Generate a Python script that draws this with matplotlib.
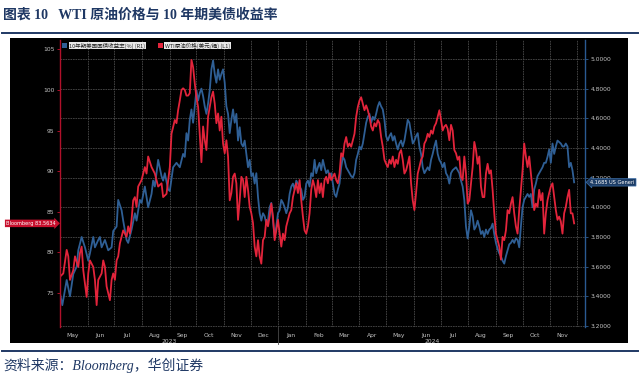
import numpy as np
import pandas as pd
import matplotlib
matplotlib.use('Agg')
import matplotlib.pyplot as plt
import matplotlib.dates as mdates
import matplotlib.transforms as mtransforms
from matplotlib.patches import Rectangle
from matplotlib.lines import Line2D

START = pd.Timestamp('2023-05-01')
END = pd.Timestamp('2024-12-10')

# ---- early segment (irregular sampling), days since START ----
yield_days_early = [0, 2.6, 7.5, 11.2, 14.9, 18.7, 20.5, 24.3, 28.0, 31.7,
                    33.6, 37.3, 39.2, 42.9, 44.8, 46.7, 50.4, 54.1, 57.9, 59.7,
                    63.5, 65.3, 69.1, 70.9, 74.7, 76.5, 80.3, 84.0, 85.9, 89.6,
                    91.5, 95.2, 98.9, 102.7, 104.5, 106.4, 110.1, 113.9, 115.7, 117.6,
                    121.3, 123.2, 126.9, 130.7, 134.4, 138.1]
yield_early = [3.42, 3.34, 3.51, 3.40, 3.55, 3.60, 3.71, 3.80, 3.73, 3.64,
               3.69, 3.80, 3.73, 3.78, 3.80, 3.73, 3.78, 3.71, 3.73, 3.84,
               3.87, 4.05, 3.98, 3.91, 3.78, 3.76, 3.85, 3.96, 3.91, 4.05,
               4.03, 4.14, 4.00, 4.09, 4.18, 4.14, 4.32, 4.21, 4.18, 4.23,
               4.12, 4.11, 4.27, 4.30, 4.27, 4.36]
wti_days_early = [0, 3.7, 7.5, 9.3, 11.2, 14.9, 16.8, 20.5, 22.4, 24.3,
                  26.1, 29.9, 31.7, 33.6, 37.3, 39.2, 41.1, 42.9, 46.7, 48.5,
                  50.4, 52.3, 56.0, 57.9, 59.7, 61.6, 63.5, 65.3, 67.2, 70.9,
                  74.7, 76.5, 78.4, 80.3, 82.1, 84.0, 85.9, 87.7, 91.5, 93.3,
                  95.2, 97.1, 98.9, 102.7, 106.4, 110.1, 113.9, 115.7, 119.5, 123.2,
                  125.1, 126.9, 128.8, 130.7, 132.5, 134.4, 136.3, 138.1]
wti_early = [77.0, 77.4, 80.3, 79.5, 76.6, 77.8, 79.5, 78.2, 79.9, 80.7,
             77.8, 74.5, 77.4, 79.0, 78.2, 76.6, 73.5, 76.6, 77.4, 79.0,
             78.2, 75.8, 74.1, 76.6, 77.4, 76.6, 79.0, 79.5, 81.1, 82.7,
             81.9, 83.2, 82.3, 84.0, 86.4, 86.8, 85.6, 88.1, 88.9, 89.7,
             90.5, 89.7, 91.8, 90.5, 89.7, 88.1, 88.5, 86.8, 87.2, 90.5,
             94.6, 95.4, 96.3, 95.9, 97.5, 98.7, 100.0, 100.2]

# ---- later segment: sampled every LATE_STEP days from day LATE_START ----
LATE_START = 140.0
LATE_STEP = 1.8667
yield_late = [
    4.34, 4.50, 4.45, 4.59, 4.66, 4.57, 4.68, 4.79, 4.72, 4.77,
    4.80, 4.75, 4.68, 4.63, 4.70, 4.79, 4.93, 4.99, 4.90, 4.84,
    4.93, 4.86, 4.90, 4.93, 4.84, 4.68, 4.63, 4.50, 4.59, 4.66,
    4.57, 4.63, 4.45, 4.54, 4.43, 4.41, 4.45, 4.36, 4.27, 4.32,
    4.21, 4.23, 4.16, 4.23, 4.07, 3.96, 3.91, 3.96, 3.94, 3.89,
    3.91, 4.00, 4.03, 3.91, 3.80, 3.87, 3.96, 3.98, 4.05, 4.03,
    4.00, 3.96, 4.00, 4.09, 4.14, 4.16, 4.12, 4.18, 4.16, 4.14,
    4.12, 4.05, 4.07, 4.16, 4.18, 4.14, 4.23, 4.21,
    4.32, 4.23, 4.27, 4.30, 4.25, 4.32, 4.27, 4.23, 4.25, 4.21,
    4.23, 4.16, 4.09, 4.07, 4.12, 4.16, 4.27, 4.34, 4.32, 4.27,
    4.25, 4.23, 4.21, 4.20, 4.23, 4.32, 4.36, 4.41, 4.39, 4.43,
    4.50, 4.57, 4.61, 4.63, 4.57, 4.61, 4.59, 4.63, 4.68, 4.71,
    4.68, 4.66, 4.59, 4.48, 4.45, 4.48, 4.50, 4.45, 4.48, 4.43,
    4.39, 4.43, 4.45, 4.41, 4.45, 4.52, 4.59, 4.57, 4.50, 4.43,
    4.45, 4.48, 4.50, 4.41, 4.36, 4.27, 4.23, 4.25, 4.27, 4.25,
    4.32, 4.36, 4.41, 4.45, 4.36, 4.32, 4.30, 4.27,
    4.30, 4.23, 4.21, 4.16, 4.23, 4.25, 4.26, 4.27, 4.25, 4.23,
    4.18, 4.14, 4.05, 3.87, 3.79, 3.87, 3.98, 3.94, 3.85, 3.87,
    3.91, 3.87, 3.82, 3.84, 3.80, 3.85, 3.82, 3.85, 3.86, 3.89,
    3.82, 3.76, 3.72, 3.69, 3.67, 3.64, 3.62, 3.67, 3.71, 3.75,
    3.76, 3.78, 3.76, 3.79, 3.78, 3.73, 3.87, 4.00, 4.05, 4.07,
    4.09, 4.07, 4.09, 4.00, 4.12, 4.16, 4.21, 4.23, 4.25, 4.27,
    4.30, 4.30, 4.34, 4.39, 4.30, 4.43, 4.36, 4.41, 4.45, 4.44,
    4.43, 4.41, 4.41, 4.43, 4.41, 4.27, 4.30, 4.25, 4.1685]
wti_late = [
    100.0, 99.3, 99.3, 99.6, 103.7, 102.8, 100.8, 99.1, 97.9, 94.6,
    91.1, 95.5, 93.8, 92.6, 96.7, 97.9, 99.1, 99.8, 98.3, 95.9,
    97.1, 95.0, 96.7, 93.4, 92.2, 93.8, 91.8, 86.4, 87.3, 89.3,
    89.7, 88.5, 84.0, 86.4, 89.3, 88.9, 86.8, 89.3, 87.7, 85.6,
    84.8, 83.6, 80.7, 79.5, 81.5, 79.5, 78.6, 81.5, 81.9, 84.0,
    83.2, 84.4, 86.0, 84.4, 81.5, 82.7, 84.0, 82.3, 80.7, 82.3,
    81.5, 83.2, 84.0, 84.8, 85.2, 86.8, 87.7, 88.5, 87.3, 88.9,
    86.4, 84.4, 82.7, 82.3, 83.2, 84.8, 87.7, 88.9,
    88.1, 86.8, 88.9, 87.3, 88.5, 86.8, 88.9, 89.3, 88.5, 89.7,
    88.9, 89.3, 89.7, 88.9, 88.5, 89.7, 92.2, 91.8, 93.4, 94.2,
    93.0, 93.4, 93.0, 93.8, 94.6, 96.7, 97.9, 98.7, 99.1, 98.3,
    97.5, 98.1, 97.5, 96.7, 95.5, 95.0, 95.9, 95.5, 96.3, 95.9,
    94.2, 93.0, 91.4, 90.9, 90.5, 91.4, 90.9, 91.8, 90.5, 91.4,
    90.9, 92.2, 92.6, 91.4, 89.7, 90.1, 90.9, 91.8, 88.5, 86.4,
    85.2, 87.3, 89.7, 90.5, 91.4, 91.8, 93.4, 93.8, 94.6, 94.2,
    95.0, 94.6, 95.5, 95.9, 96.7, 97.5, 96.3, 95.0,
    95.5, 95.7, 95.2, 93.8, 95.7, 95.0, 92.6, 92.2, 91.4, 91.8,
    89.3, 88.9, 91.8, 89.7, 86.0, 86.4, 88.5, 90.5, 93.6, 92.6,
    90.9, 91.8, 88.1, 86.8, 86.8, 89.7, 90.9, 89.7, 90.1, 87.7,
    84.8, 82.3, 81.5, 80.7, 79.1, 81.9, 81.5, 82.7, 85.2, 84.8,
    86.0, 86.8, 84.8, 83.2, 82.3, 85.2, 87.7, 90.1, 93.4, 91.8,
    90.5, 91.8, 89.7, 87.7, 85.2, 86.0, 85.6, 87.7, 86.4, 87.3,
    82.3, 84.8, 86.4, 87.3, 88.1, 88.5, 86.8, 85.2, 84.0, 84.4,
    83.8, 82.3, 84.8, 85.6, 86.8, 87.7, 84.8, 84.8, 83.5634]

left_ticks = [75, 80, 85, 90, 95, 100, 105]
right_ticks = [3.2, 3.4, 3.6, 3.8, 4.0, 4.2, 4.4, 4.6, 4.8, 5.0]

title_text = '图表 10   WTI 原油价格与 10 年期美债收益率'
legend_blue = '10年期美国国债收益率(%) (R1)'
legend_red = 'WTI原油价格(美元/桶) (L1)'
source_text = '资料来源：Bloomberg，华创证券'

# ---- build series ----
def to_dates(days):
    return START + pd.to_timedelta(np.asarray(days, dtype=float), unit='D')

late_days = LATE_START + LATE_STEP * np.arange(len(yield_late))
yield_dates = to_dates(list(yield_days_early) + list(late_days))
yield_vals = np.array(yield_early + yield_late)
wti_dates = to_dates(list(wti_days_early) + list(late_days))
wti_vals = np.array(wti_early + wti_late)

BLUE = '#2f5f95'
RED = '#e3243b'
LBL = '#c4c4c4'
NAVY = '#1f3864'
CJK = ['Noto Sans CJK SC', 'DejaVu Sans']

fig = plt.figure(figsize=(6.4, 3.76), dpi=100)
fig.patch.set_facecolor('white')
W, H = 640.0, 376.0

# black chart panel
fig.patches.append(Rectangle((10 / W, 1 - 343 / H), 618 / W, 305 / H,
                             transform=fig.transFigure, facecolor='black',
                             edgecolor='none', zorder=0))

rect = [60 / W, 1 - 327 / H, 525 / W, 287 / H]
ax2 = fig.add_axes(rect)                 # right axis (yield), drawn first
ax = fig.add_axes(rect, sharex=ax2)      # left axis (WTI), drawn on top
ax2.set_zorder(1)
ax.set_zorder(2)
ax2.set_facecolor('black')
ax.patch.set_visible(False)

# right axis config
ax2.yaxis.tick_right()
ax2.yaxis.set_label_position('right')
ax2.set_ylim(3.193, 5.128)
ax2.set_yticks(right_ticks)
ax2.set_yticklabels([f'{v:.4f}' for v in right_ticks])
ax2.tick_params(axis='y', colors=BLUE, labelcolor=LBL, labelsize=4.3,
                length=2.5, width=0.6, pad=1.5)
for s in ['left', 'top', 'bottom']:
    ax2.spines[s].set_visible(False)
ax2.spines['right'].set_color('#2a5a92')
ax2.spines['right'].set_linewidth(1.0)

# left axis config
ax.set_ylim(70.8, 106.15)
ax.set_yticks(left_ticks)
ax.tick_params(axis='y', colors='#c8102e', labelcolor=LBL, labelsize=4.3,
               length=2.5, width=0.6, pad=1.5)
for s in ['right', 'top', 'bottom']:
    ax.spines[s].set_visible(False)
ax.spines['left'].set_color('#b0102a')
ax.spines['left'].set_linewidth(1.0)

# x axis
ax.set_xlim(START, END)
ax.xaxis.set_major_locator(mdates.MonthLocator())
ax.xaxis.set_minor_locator(mdates.MonthLocator(bymonthday=15))
ax.xaxis.set_major_formatter(plt.NullFormatter())
ax.xaxis.set_minor_formatter(mdates.DateFormatter('%b'))
ax.tick_params(axis='x', which='both', length=0, labelcolor=LBL,
               labelsize=4.3, pad=4)
ax2.tick_params(axis='x', which='both', length=0, labelbottom=False)

# grid on the (lower) right axes
ax2.grid(True, axis='y', color='#4a4a4a', lw=0.6, ls=(0, (2, 1)))
ax2.grid(True, axis='x', which='major', color='#4a4a4a', lw=0.6, ls=(0, (2, 1)))

# lines
ax2.plot(yield_dates, yield_vals, color=BLUE, lw=1.3, solid_joinstyle='round')
ax.plot(wti_dates, wti_vals, color=RED, lw=1.3, solid_joinstyle='round')

# year labels
y2024 = pd.Timestamp('2024-01-01')
tx = mtransforms.blended_transform_factory(ax.transData, ax.transAxes)
for lo, hi, lab in [(START, y2024, '2023'), (y2024, END, '2024')]:
    mid = lo + (hi - lo) / 2
    ax.text(mid, -0.05, lab, transform=tx, ha='center', va='center',
            fontsize=4.3, color=LBL, clip_on=False)
ax.plot([y2024, y2024], [0, -0.06], transform=tx, color='#4a4a4a', lw=0.6,
        clip_on=False)

# last-value tags
tl = mtransforms.blended_transform_factory(ax.transAxes, ax.transData)
ax.text(-0.008, wti_vals[-1], f'Bloomberg {wti_vals[-1]:.4f}', transform=tl,
        ha='right', va='center', fontsize=3.6, color='white', clip_on=False,
        bbox=dict(boxstyle='rarrow,pad=0.25', fc='#c8102e', ec='none'))
tr = mtransforms.blended_transform_factory(ax2.transAxes, ax2.transData)
ax2.text(1.01, yield_vals[-1], f'{yield_vals[-1]:.4f} US Generi', transform=tr,
         ha='left', va='center', fontsize=3.6, color='white', clip_on=False,
         zorder=10,
         bbox=dict(boxstyle='larrow,pad=0.25', fc='#1d3d66', ec='#3d6fa8', lw=0.5))

# legend (manual)
for x0, col, txt in [(0.004, BLUE, legend_blue), (0.186, RED, legend_red)]:
    ax.add_patch(Rectangle((x0, 0.972), 0.0095, 0.018, transform=ax.transAxes,
                           facecolor=col, edgecolor='none', clip_on=False))
    ax.text(x0 + 0.014, 0.981, txt, transform=ax.transAxes, ha='left',
            va='center', fontsize=4.0, color='#222222', family=CJK,
            bbox=dict(boxstyle='square,pad=0.12', fc='#e8e8e8', ec='none'))

# title, rules and source
fig.text(3 / W, 1 - 15 / H, title_text, ha='left', va='center', fontsize=10,
         weight='bold', color=NAVY, family=['Liberation Serif', 'Noto Sans CJK SC'])
fig.add_artist(Line2D([2 / W, 638 / W], [1 - 33 / H] * 2, color=NAVY, lw=1.4,
                      transform=fig.transFigure))
fig.add_artist(Line2D([2 / W, 638 / W], [1 - 351 / H] * 2, color=NAVY, lw=1.4,
                      transform=fig.transFigure))
fig.text(3 / W, 1 - 365 / H, source_text, ha='left', va='center', fontsize=10,
         style='italic', color=NAVY, family=['Liberation Serif', 'Noto Sans CJK SC'])

fig.savefig('out.png', dpi=100, facecolor='white')
